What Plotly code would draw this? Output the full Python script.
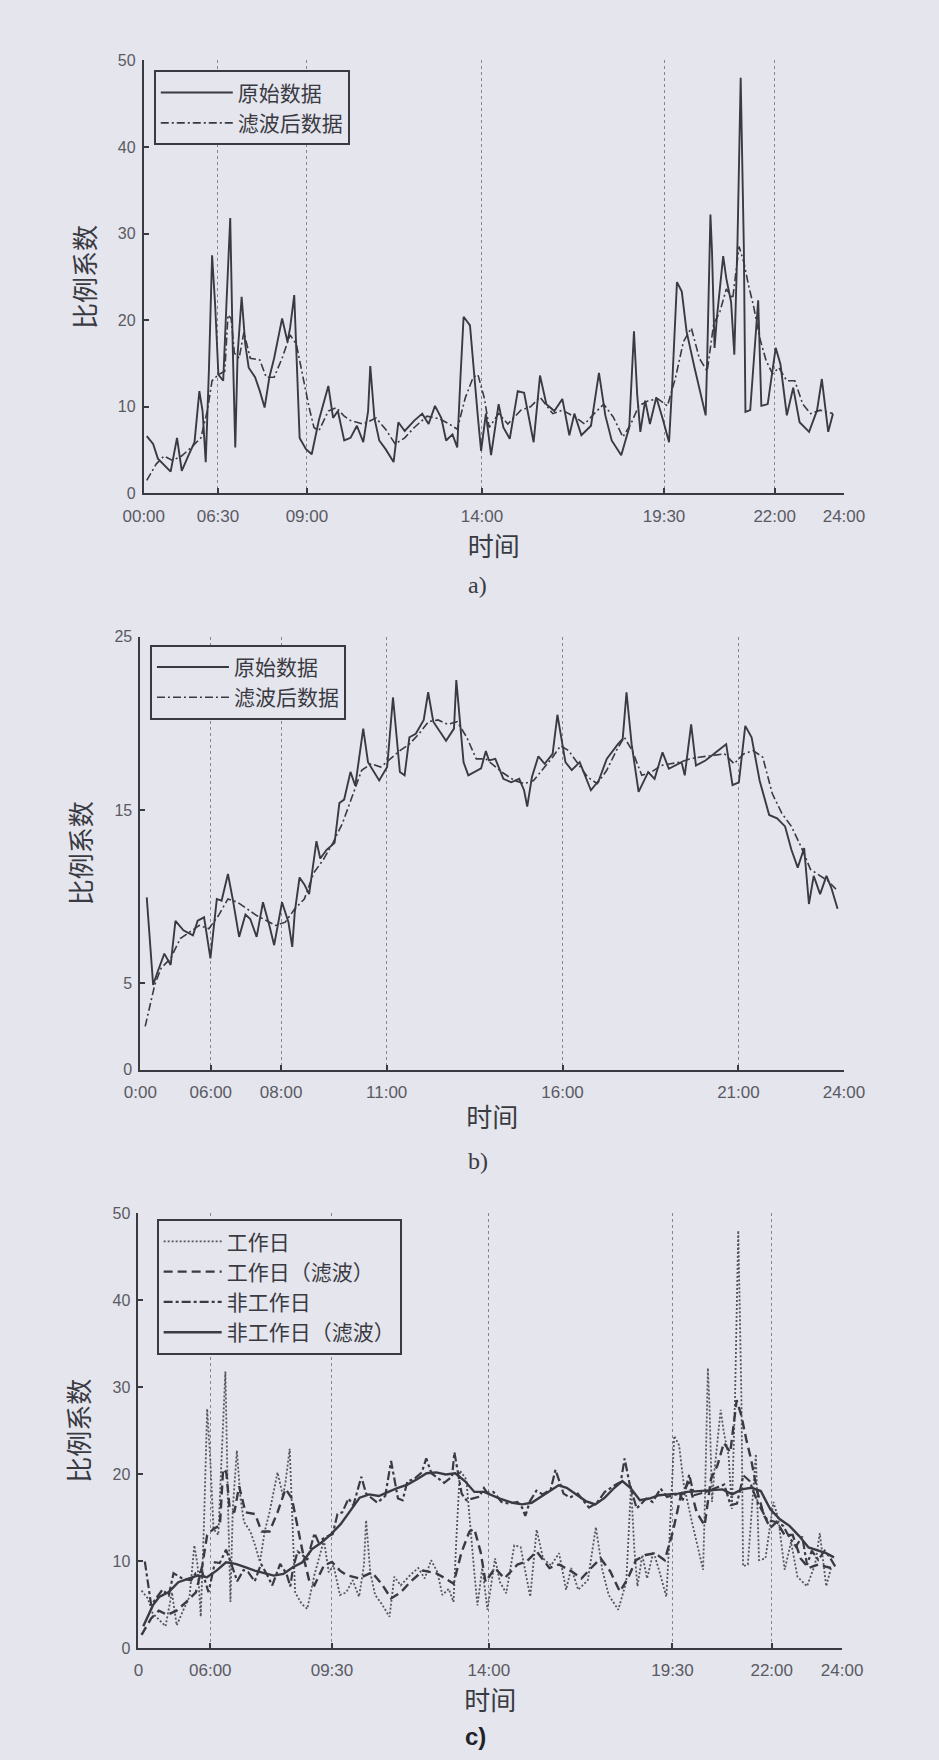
import plotly.graph_objects as go

# ---------------- data (x = position along the day axis, per mille of the axis) ----------------
a_raw_x = [4.3, 13.4, 20.2, 27, 38.4, 47.5, 54.3, 63.4, 72.5, 79.4, 84, 88.5, 93, 97.6, 102, 106.6, 113.5, 118,
           123.5, 127, 130.7, 134, 139.8, 145, 149.9, 159, 165.8, 172.6, 179.4, 186.2, 197.6, 205.3, 209, 214.9,
           219, 222.6, 231.7, 239.9, 250, 263.6, 270.4, 277.2, 286.3, 295.3, 304.4, 313.5, 320.4, 323.5, 329.4,
           336.3, 345.4, 356.8, 363.6, 372.7, 386.3, 397.7, 406.8, 415.9, 425, 431.8, 440.9, 447.7, 452.3, 456.8,
           465.9, 470.4, 477.3, 481.8, 488.6, 496, 506.8, 513.6, 522.7, 534.1, 543.2, 556.8, 565.9, 575, 586.4,
           597.8, 607.8, 615, 625, 638.7, 650.1, 659.2, 668.3, 681.9, 693.3, 700.1, 704.7, 709.2, 716.1, 722.9,
           732, 741.1, 750.2, 754.7, 761.5, 768.4, 775.2, 786.6, 802.5, 804.7, 809.3, 811.6, 815.2, 818.4, 827.5,
           832, 838.8, 843.4, 847.9, 852.5, 857, 859.3, 866.1, 877.5, 882, 891.1, 902.5, 909.3, 918.4, 927.5,
           936.6, 950.2, 961.6, 968.4, 977.5, 984.3]
a_raw_y = [6.6, 5.7, 4.0, 3.4, 2.5, 6.4, 2.6, 4.3, 5.9, 11.8, 9.5, 3.6, 14.1, 27.5, 21.7, 13.7, 13.0, 21.7,
           31.8, 17.2, 5.3, 16.0, 22.7, 17.2, 14.5, 13.4, 11.8, 9.9, 13.4, 15.6, 20.2, 17.5, 19.1, 22.9,
           13.7, 6.4, 5.1, 4.5, 8.4, 12.4, 8.7, 9.5, 6.1, 6.4, 7.8, 5.9, 9.5, 14.7, 8.7,
           6.1, 5.1, 3.6, 8.2, 7.2, 8.4, 9.2, 8.0, 10.1, 8.7, 6.1, 6.8, 5.3, 13.4, 20.4,
           19.4, 14.8, 8.7, 4.9, 9.2, 4.4, 10.3, 7.6, 6.3, 11.8, 11.6, 5.9, 13.6, 10.3, 9.5,
           10.9, 6.7, 9.2, 6.7, 7.8, 13.9, 9.0, 6.1, 4.4, 7.6, 18.7, 11.4, 7.1, 10.7, 8.0,
           11.1, 8.6, 5.9, 12.6, 24.4, 23.3, 18.7, 14.5, 9.0, 15.6, 32.2, 27.8, 16.8, 20.2, 27.4,
           24.8, 22.1, 16.0, 28.9, 48.0, 28.5, 9.4, 9.6, 22.3, 10.1, 10.3, 16.8, 14.9, 9.0, 12.2,
           8.2, 7.1, 9.6, 13.2, 7.1, 9.2]

a_filt_x = [4.3, 18, 29, 41, 54, 68, 81.6, 90.7, 97.6, 106.6, 115.7, 120.3, 124.8, 129.4, 136.2, 143, 152.1,
            165.8, 174.9, 186.2, 197.6, 209, 218, 227.2, 236.2, 243.1, 250, 263.6, 275, 286.3, 295.3, 313.5,
            331.7, 345.4, 359, 372.7, 386.3, 404.5, 422.7, 436.3, 447.7, 459.1, 470.4, 477.3, 486.4, 493.2,
            506.8, 520, 538.6, 552.3, 565.9, 584.1, 597.8, 616, 629.6, 643.3, 656.9, 670.6, 684.2, 695.6,
            707, 720.6, 734.3, 747.9, 759.3, 770.7, 782, 793.4, 804.7, 813.8, 822.9, 832, 841.1, 850.2,
            857, 863.8, 870.7, 879.8, 888.9, 898, 907, 918.4, 929.8, 941.1, 952.5, 966.1, 984.3]
a_filt_y = [1.5, 3.4, 4.3, 3.8, 4.3, 5.3, 6.4, 9.5, 13.0, 13.7, 14.1, 20.6, 20.2, 16.2, 15.6, 18.6, 15.6,
            15.4, 13.4, 13.4, 15.6, 18.3, 17.2, 13.4, 9.9, 7.6, 7.2, 9.5, 9.9, 8.9, 8.4, 8.0,
            8.7, 7.4, 5.7, 6.4, 7.6, 8.9, 8.6, 8.0, 7.4, 11.0, 13.4, 13.7, 11.0, 7.6,
            9.2, 8.0, 9.6, 10.0, 11.1, 9.2, 9.6, 8.8, 8.0, 9.2, 10.3, 8.8, 6.5, 8.0,
            10.1, 10.7, 10.9, 10.1, 13.3, 17.5, 19.1, 15.6, 14.1, 19.5, 21.0, 23.6, 22.5, 28.5,
            26.7, 24.0, 21.7, 17.9, 15.3, 13.8, 14.5, 13.0, 13.0, 10.3, 9.2, 9.6, 9.2]

b_raw_x = [9, 13.6, 18.1, 24.9, 34, 43, 49.8, 61.1, 74.7, 81.4, 90.5, 99.5, 108.6, 115.4, 124.4, 131.2, 140.3,
           149.3, 156.1, 165.2, 174.2, 183.3, 190.1, 201.3, 210.4, 215.8, 219.4, 226.2, 233, 239.8, 250.2,
           255.6, 264.7, 276, 282.8, 289.6, 298.6, 305.4, 316.7, 323.5, 330.3, 339.4, 350.7, 359, 368.8,
           375.5, 382.3, 391.4, 402.7, 409, 416.3, 434.4, 445.7, 449, 459.3, 466.1, 484.2, 491, 495.5, 504.5,
           515.9, 527.1, 538.4, 545.3, 549.8, 556.5, 565.6, 574.6, 585.9, 592.7, 604.1, 613.1, 624.4, 640.3,
           651.5, 662.8, 678.7, 685.5, 690.9, 698.2, 708.1, 721.7, 730.8, 742.1, 751.1, 760.2, 769.2, 773.7,
           782.8, 789.6, 803.1, 821.2, 832.6, 841.6, 850.6, 859.7, 868.7, 880.1, 893.7, 904.9, 916.3, 925.3,
           934.3, 943.4, 950.2, 957, 966.1, 975.1, 981.9, 990.9]
b_raw_y = [9.95, 7.2, 4.9, 5.7, 6.7, 6.05, 8.6, 8.05, 7.76, 8.6, 8.8, 6.43, 9.86, 9.76, 11.3, 9.86, 7.67,
           8.96, 8.7, 7.67, 9.67, 8.33, 7.19, 9.67, 8.52, 7.09, 9.1, 11.1, 10.7, 10.14, 13.2,
           12.2, 12.7, 13.1, 15.4, 15.6, 17.2, 16.4, 19.7, 17.76, 17.3, 16.71, 17.48, 21.5, 17.2,
           17.0, 19.2, 19.4, 20.2, 21.8, 20.1, 19.0, 19.7, 22.5, 17.76, 17.0, 17.4, 18.4, 17.86, 17.95,
           16.8, 16.6, 16.8, 16.14, 15.2, 16.9, 18.1, 17.67, 18.24, 20.5, 17.76, 17.3, 17.76, 16.14,
           16.7, 17.95, 18.8, 19.1, 21.8, 18.8, 16.05, 17.19, 16.8, 18.33, 17.38, 17.57, 17.76, 17.0,
           19.95, 17.57, 17.86, 18.43, 18.8, 16.43, 16.6, 19.86, 19.2, 16.7, 14.71, 14.52, 14.05, 12.7,
           11.67, 12.8, 9.57, 11.19, 10.14, 11.19, 10.52, 9.29]

b_filt_x = [6.8, 13.6, 20.4, 29.4, 43, 56.6, 70.1, 83.7, 97.3, 110.9, 124.4, 138, 151.6, 165.2, 178.8, 192.3,
            205.9, 219.4, 233, 246.6, 260.1, 273.7, 287.3, 300.9, 314.4, 328, 341.6, 355.2, 368.8, 382.3,
            395.9, 409.5, 423.1, 436.7, 450.2, 463.8, 477.4, 491, 513.6, 531.7, 545.3, 558.8, 572.4, 585.9,
            597.2, 608.6, 622.1, 635.7, 649.3, 662.8, 676.4, 687.7, 699.1, 712.6, 726.2, 739.8, 753.3, 766.9,
            780.5, 794, 812.1, 830.2, 843.8, 857.4, 870.9, 884.5, 898.1, 911.7, 925.3, 938.8, 952.4, 966,
            977.3, 988.6]
b_filt_y = [2.5, 3.76, 4.9, 5.86, 6.43, 7.57, 7.95, 8.33, 8.14, 8.9, 9.86, 9.67, 9.29, 8.9, 8.62, 8.33,
            8.52, 9.29, 9.86, 11.38, 12.14, 13.1, 14.24, 15.76, 17.29, 17.67, 17.48, 17.95, 18.43, 18.8,
            19.4, 20.1, 20.2, 19.95, 20.1, 19.2, 17.95, 17.95, 17.19, 16.7, 16.52, 16.7, 17.38, 18.05,
            18.71, 18.43, 17.67, 16.9, 16.52, 17.29, 18.43, 19.2, 18.43, 17.0, 17.19, 17.57, 17.67, 17.76,
            17.95, 18.05, 18.14, 18.24, 17.67, 18.24, 18.43, 18.05, 15.95, 14.81, 14.05, 12.9, 11.57, 11.19,
            10.9, 10.43]

# tick positions / labels of each panel's time axis
a_tickvals = [0, 106, 233, 483, 743, 901, 1000]
a_ticktext = ["00:00", "06:30", "09:00", "14:00", "19:30", "22:00", "24:00"]
b_tickvals = [0, 100, 200, 350, 600, 850, 1000]
b_ticktext = ["0:00", "06:00", "08:00", "11:00", "16:00", "21:00", "24:00"]
c_tickvals = [0, 102, 275, 498, 759, 900, 1000]
c_ticktext = ["0", "06:00", "09:30", "14:00", "19:30", "22:00", "24:00"]

a_names = ["原始数据", "滤波后数据"]
c_names = ["工作日", "工作日（滤波）", "非工作日", "非工作日（滤波）"]

# ---------------- style ----------------
BG = "#e4e5ed"
INK = "#3a3a42"
TICKC = "#5a5a63"
CJK = "Noto Sans CJK SC"
LAT = "Liberation Sans, Arial, sans-serif"
W, H = 939, 1760

fig = go.Figure()


def add(xs, ys, xa, ya, name, dash, width, legend, color=INK):
    fig.add_trace(go.Scatter(x=xs, y=ys, xaxis=xa, yaxis=ya, mode="lines", name=name,
                             line=dict(color=color, width=width, dash=dash), legend=legend))


DASHDOT = "8px,3px,2px,3px"
add(a_raw_x, a_raw_y, "x", "y", a_names[0], "solid", 1.9, "legend")
add(a_filt_x, a_filt_y, "x", "y", a_names[1], DASHDOT, 1.6, "legend")
add(b_raw_x, b_raw_y, "x2", "y2", a_names[0], "solid", 1.9, "legend2")
add(b_filt_x, b_filt_y, "x2", "y2", a_names[1], DASHDOT, 1.6, "legend2")
add(a_raw_x, a_raw_y, "x3", "y3", c_names[0], "2px,2px", 1.8, "legend3", color="#55555d")
add(a_filt_x, a_filt_y, "x3", "y3", c_names[1], "9px,5px", 2.4, "legend3")
add(b_raw_x, b_raw_y, "x3", "y3", c_names[2], "9px,3px,3px,3px", 2.2, "legend3")
add(b_filt_x, b_filt_y, "x3", "y3", c_names[3], "solid", 2.4, "legend3")


def px_dom_x(x0, x1):
    return [x0 / W, x1 / W]


def px_dom_y(top, bottom):
    return [1 - bottom / H, 1 - top / H]


def xaxis(dom, anchor, tv, tt):
    return dict(domain=dom, anchor=anchor, range=[0, 1000], tickmode="array", tickvals=tv, ticktext=tt,
                showline=True, linecolor=INK, linewidth=2, ticks="inside", ticklen=5, tickwidth=1.5,
                tickcolor=INK, showgrid=True, gridcolor="#85858e", griddash="dot", gridwidth=1,
                zeroline=False, tickfont=dict(family=LAT, size=17, color=TICKC), ticklabelstandoff=6,
                title=dict(text="时间", font=dict(family=CJK, size=26, color=INK), standoff=8))


def yaxis(dom, anchor, rng, tv):
    return dict(domain=dom, anchor=anchor, range=rng, tickmode="array", tickvals=tv,
                showline=True, linecolor=INK, linewidth=2, ticks="inside", ticklen=5, tickwidth=1.5,
                tickcolor=INK, showgrid=False, zeroline=False, tickfont=dict(family=LAT, size=16, color=TICKC),
                ticklabelstandoff=3,
                title=dict(text="比例系数", font=dict(family=CJK, size=26, color=INK), standoff=15))


def legend(x, y, size, iw):
    return dict(x=x / W, y=1 - y / H, xanchor="left", yanchor="top", bgcolor=BG, bordercolor=INK,
                borderwidth=2, font=dict(family=CJK, size=size, color=INK), itemwidth=iw, tracegroupgap=0)


def label(text, x, y, font):
    return dict(text=text, x=x / W, y=1 - y / H, xref="paper", yref="paper", showarrow=False,
                xanchor="center", yanchor="middle", font=font)


SERIF = dict(family="Liberation Serif, Times New Roman, serif", size=24, color=INK)

fig.update_layout(
    width=W, height=H, margin=dict(l=0, r=0, t=0, b=0),
    paper_bgcolor=BG, plot_bgcolor=BG,
    xaxis=xaxis(px_dom_x(128.5, 861.5), "y", a_tickvals, a_ticktext),
    yaxis=yaxis(px_dom_y(53, 490), "x", [0, 50], [0, 10, 20, 30, 40, 50]),
    xaxis2=xaxis(px_dom_x(125, 861.5), "y2", b_tickvals, b_ticktext),
    yaxis2=yaxis(px_dom_y(635, 1072), "x2", [0, 25], [0, 5, 15, 25]),
    xaxis3=xaxis(px_dom_x(123, 859.5), "y3", c_tickvals, c_ticktext),
    yaxis3=yaxis(px_dom_y(1217, 1656), "x3", [0, 50], [0, 10, 20, 30, 40, 50]),
    legend=legend(139, 63, 21, 72),
    legend2=legend(135, 643, 21, 72),
    legend3=legend(142, 1223, 21, 58),
    annotations=[
        label("a)", 478, 583, SERIF),
        label("b)", 478, 1164, SERIF),
        label("<b>c)</b>", 476, 1745, dict(family=LAT, size=24, color="#222228")),
    ],
)

fig.write_html("out.html")
